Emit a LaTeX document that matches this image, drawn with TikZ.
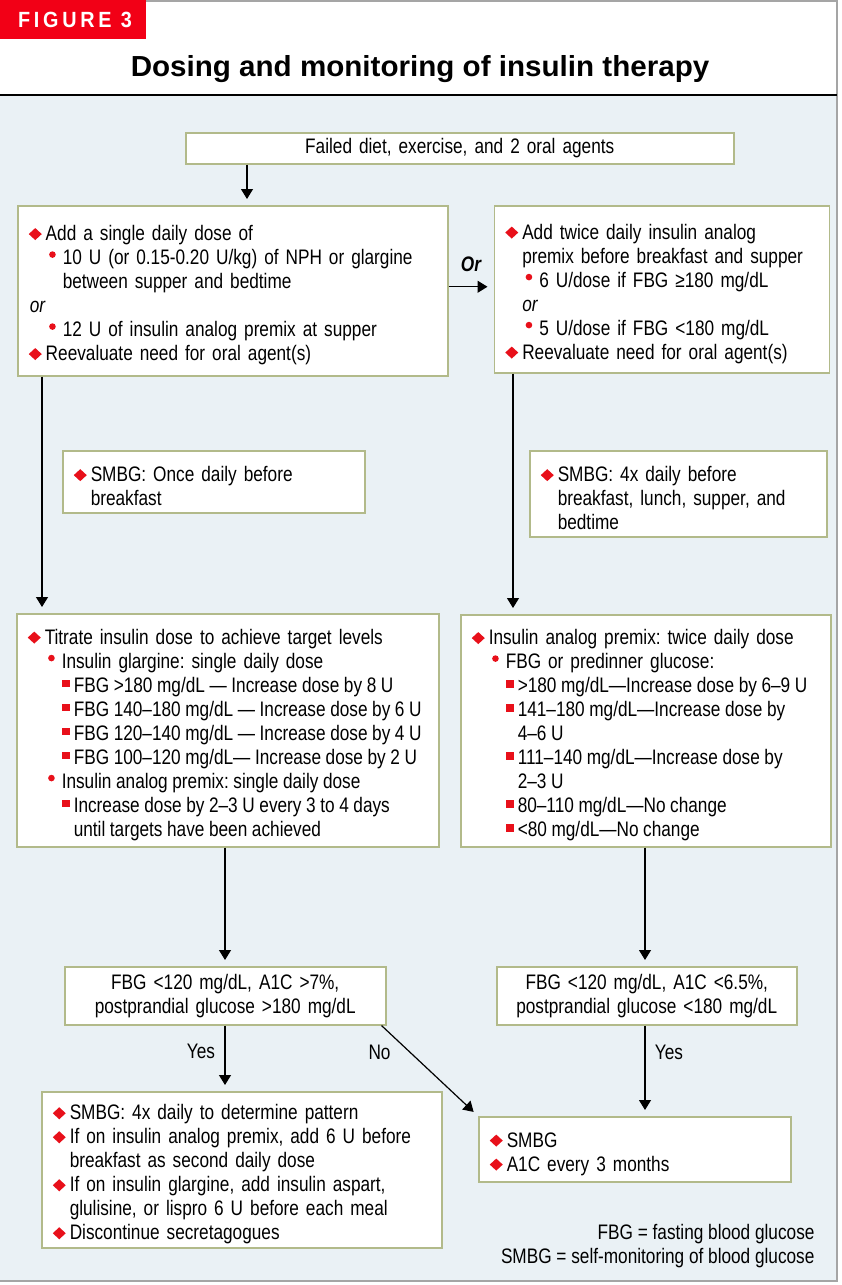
\documentclass[tikz,border=0pt]{standalone}
\usepackage{fontspec}
\setmainfont[FakeStretch=0.82]{Liberation Sans}
\newfontfamily\headfont[FakeStretch=1.02]{Liberation Sans}
\newfontfamily\tagfont[LetterSpace=17,FakeStretch=0.9]{Liberation Sans}
\usetikzlibrary{positioning,arrows.meta}
\definecolor{figred}{RGB}{242,0,22}
\definecolor{bulred}{RGB}{232,16,26}
\definecolor{bgblue}{RGB}{234,241,245}
\definecolor{boxline}{RGB}{178,186,138}
\definecolor{framegray}{RGB}{165,165,165}
\frenchspacing
\newcommand{\bodysize}{\fontsize{21}{24}\selectfont}
\newcommand{\dmd}{\tikz[baseline=0pt,x=1pt,y=1pt]\fill[bulred] (0,6.5)--(6.5,12.5)--(13,6.5)--(6.5,0.5)--cycle;}
\newcommand{\rdot}{\tikz[baseline=0pt,x=1pt,y=1pt]\fill[bulred] (3.3,10) circle (3.3pt);}
\newcommand{\rsq}{\tikz[baseline=0pt,x=1pt,y=1pt]\fill[bulred] (0,5) rectangle (7.5,12.5);}
\newcommand{\lva}{\par\leftskip=16pt\rightskip=-100pt plus 1fil\relax\noindent\llap{\dmd\hspace{4pt}}}
\newcommand{\lvb}{\par\leftskip=33pt\rightskip=-100pt plus 1fil\relax\noindent\llap{\rdot\hspace{7pt}}}
\newcommand{\lvc}{\par\leftskip=45pt\rightskip=-100pt plus 1fil\relax\spaceskip=4.6pt plus 1pt minus 1pt\relax\noindent\llap{\rsq\hspace{4pt}}}
\newcommand{\lvor}[1]{\par\leftskip=#1\relax\noindent\textit{or}}

\begin{document}
\begin{tikzpicture}[x=1pt, y=-1pt,
        box/.style={draw=boxline, line width=1.5pt, fill=white, inner xsep=12pt, inner ysep=4pt,
            align=left, font=\bodysize, anchor=north west},
        cbox/.style={box, align=center},
        arr/.style={-{Triangle[length=10pt,width=12pt]}, line width=1.2pt, shorten >=6pt},
        lbl/.style={font=\bodysize}]
        \useasboundingbox (0,0) rectangle (841,1285);
        \fill[bgblue] (0,96) rectangle (837,1281);
        \draw[framegray, line width=1.2pt] (0,1) -- (837,1) -- (837,1281) -- (0,1281);
        \draw[line width=2.4pt] (0,95) -- (837,95);
        \fill[figred] (0,0) rectangle (146,39);
        \node[text=white, font=\tagfont\bfseries\fontsize{22}{22}\selectfont] (tag) at (75,20) {FIGURE 3};
        \node[font=\headfont\bfseries\fontsize{29}{31}\selectfont] (title) at (420,69) {Dosing and monitoring of insulin therapy};

        \node[cbox, text width=524pt, minimum height=31pt] (start) at (185,132) {Failed diet, exercise, and 2 oral agents};
        \node[box, text width=406pt, minimum height=170pt] (single) at (17,205) {%
            \lva Add a single daily dose of
            \lvb 10 U (or 0.15-0.20 U/kg) of NPH or glargine\newline between supper and bedtime
            \lvor{0pt}
            \lvb 12 U of insulin analog premix at supper
            \lva Reevaluate need for oral agent(s)\par};
        \node[box, text width=311pt, minimum height=167pt, right=45pt of single.north east, anchor=north west] (twice) {%
            \lva Add twice daily insulin analog\newline premix before breakfast and supper
            \lvb 6 U/dose if FBG ≥180 mg/dL
            \lvor{16pt}
            \lvb 5 U/dose if FBG <180 mg/dL
            \lva Reevaluate need for oral agent(s)\par};
        \node[box, text width=278pt, minimum height=62pt] (smbgA) at (62,450) {%
            \lva SMBG: Once daily before\newline breakfast\par};
        \node[box, text width=273pt, minimum height=86pt] (smbgB) at (529,450) {%
            \lva SMBG: 4x daily before\newline breakfast, lunch, supper, and\newline bedtime\par};
        \node[box, text width=398pt, minimum height=233pt] (titA) at (16,613) {%
            \lva Titrate insulin dose to achieve target levels
            \lvb Insulin glargine: single daily dose
            \lvc FBG >180 mg/dL — Increase dose by 8 U
            \lvc FBG 140–180 mg/dL — Increase dose by 6 U
            \lvc FBG 120–140 mg/dL — Increase dose by 4 U
            \lvc FBG 100–120 mg/dL— Increase dose by 2 U
            \lvb Insulin analog premix: single daily dose
            \lvc Increase dose by 2–3 U every 3 to 4 days\newline until targets have been achieved\par};
        \node[box, text width=346pt, minimum height=232pt] (titB) at (460,614) {%
            \lva Insulin analog premix: twice daily dose
            \lvb FBG or predinner glucose:
            \lvc >180 mg/dL—Increase dose by 6–9 U
            \lvc 141–180 mg/dL—Increase dose by\newline 4–6 U
            \lvc 111–140 mg/dL—Increase dose by\newline 2–3 U
            \lvc 80–110 mg/dL—No change
            \lvc <80 mg/dL—No change\par};
        \node[cbox, text width=297pt, minimum height=58pt] (chkA) at (64,966) {FBG <120 mg/dL, A1C >7\%,\\postprandial glucose >180 mg/dL};
        \node[cbox, text width=276pt, minimum height=58pt] (chkB) at (496,966) {FBG <120 mg/dL, A1C <6.5\%,\\postprandial glucose <180 mg/dL};
        \node[box, text width=376pt, minimum height=153pt] (actA) at (41,1091) {%
            \lva SMBG: 4x daily to determine pattern
            \lva If on insulin analog premix, add 6 U before\newline breakfast as second daily dose
            \lva If on insulin glargine, add insulin aspart,\newline glulisine, or lispro 6 U before each meal
            \lva Discontinue secretagogues\par};
        \node[box, text width=288pt, minimum height=65pt] (actB) at (478,1116) {%
            \lva SMBG
            \lva A1C every 3 months\par};
        \node[lbl, align=right, anchor=north east] (key) at (818,1221) {FBG = fasting blood glucose\\SMBG = self-monitoring of blood glucose};

        \coordinate (xa) at (247,0);
        \coordinate (xb) at (42,0);
        \coordinate (xc) at (513,0);
        \coordinate (xd) at (225,0);
        \coordinate (xe) at (645,0);
        \coordinate (orpt) at ([yshift=4pt]single.east);
        \draw[arr] (start.south -| xa) -- (single.north -| xa);
        \draw[arr] (orpt) -- node[pos=0.5, above=11pt, font=\bodysize\bfseries\itshape] {Or} (orpt -| twice.west);
        \draw[arr] (single.south -| xb) -- (titA.north -| xb);
        \draw[arr] (twice.south -| xc) -- (titB.north -| xc);
        \draw[arr] (titA.south -| xd) -- (chkA.north -| xd);
        \draw[arr] (titB.south -| xe) -- (chkB.north -| xe);
        \draw[arr] (chkA.south -| xd) -- node[lbl, pos=0.4, left=6pt] {Yes} (actA.north -| xd);
        \draw[arr] ([xshift=-5pt]chkA.south east) -- node[lbl, pos=0.3, left=16pt] {No} (actB.north west);
        \draw[arr] (chkB.south -| xe) -- node[lbl, pos=0.3, right=6pt] {Yes} (actB.north -| xe);
\end{tikzpicture}
\end{document}
